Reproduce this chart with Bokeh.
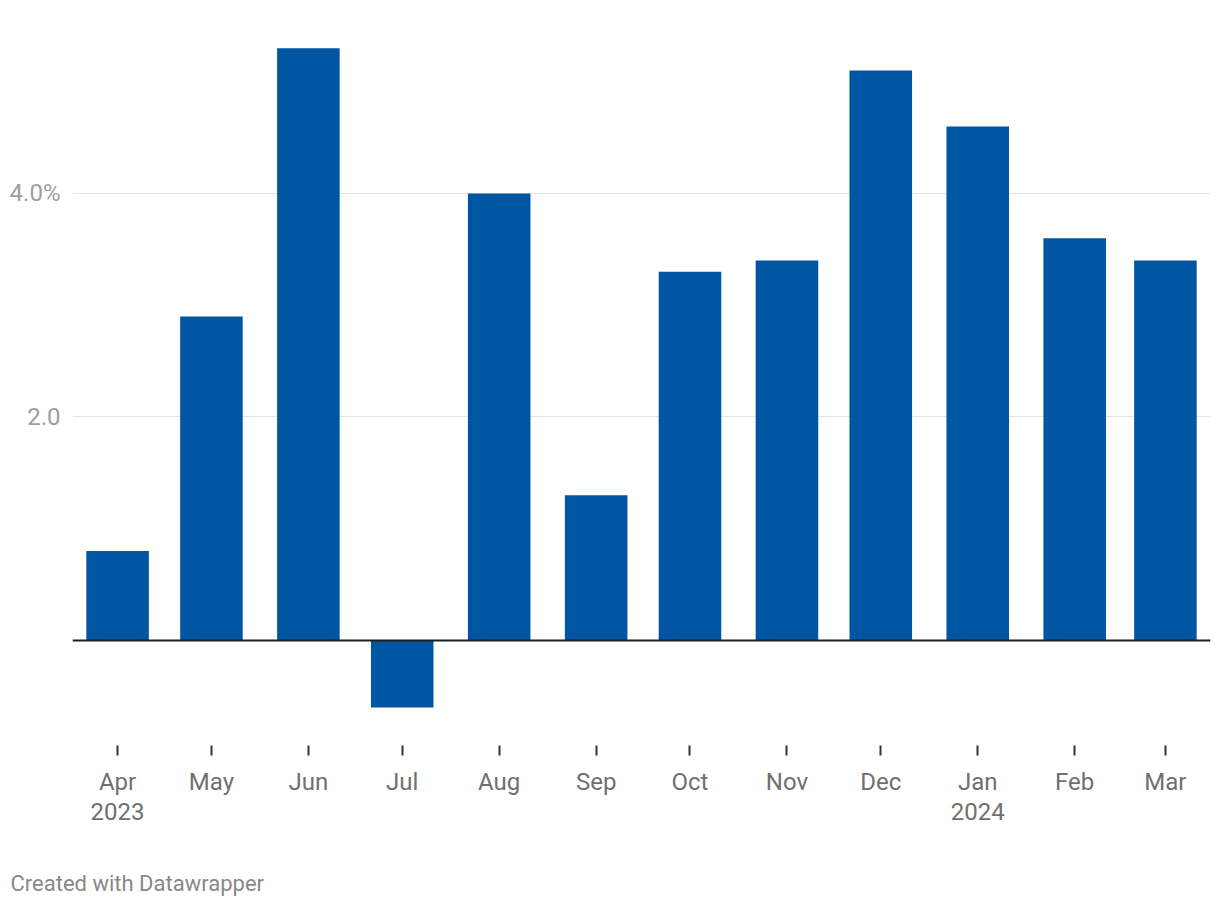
import datetime as dt
from bokeh.plotting import figure
from bokeh.models import FixedTicker, Span, Title, Range1d, ColumnDataSource
from bokeh.embed import file_html
from bokeh.resources import INLINE

# ---- data ----
months = ["2023-04-01", "2023-05-01", "2023-06-01", "2023-07-01", "2023-08-01", "2023-09-01",
          "2023-10-01", "2023-11-01", "2023-12-01", "2024-01-01", "2024-02-01", "2024-03-01"]
month_labels = ["Apr\n2023", "May", "Jun", "Jul", "Aug", "Sep",
                "Oct", "Nov", "Dec", "Jan\n2024", "Feb", "Mar"]
values = [0.8, 2.9, 5.3, -0.6, 4.0, 1.3, 3.3, 3.4, 5.1, 4.6, 3.6, 3.4]
y_ticks = [2, 4]
y_tick_labels = ["2.0", "4.0%"]
footer = "Created with Datawrapper"

dates = [dt.datetime.strptime(m, "%Y-%m-%d") for m in months]
epoch = dt.datetime(1970, 1, 1)
tick_ms = [int((d - epoch).total_seconds() * 1000) for d in dates]

src = ColumnDataSource(dict(x=dates, top=values))

FONT = "Roboto"
W, H = 1220, 908
p = figure(width=W, height=H, x_axis_type="datetime",
           output_backend="svg", toolbar_location=None,
           x_range=Range1d(dt.datetime(2023, 3, 17, 14), dt.datetime(2024, 3, 15, 10)),
           y_range=Range1d(-0.9396, 5.369),
           min_border_left=72, min_border_right=10, min_border_top=40, min_border_bottom=H - 745)
p.outline_line_color = None
p.background_fill_color = "white"
p.border_fill_color = "white"

p.vbar(x="x", top="top", bottom=0, width=20 * 86400000, source=src,
       fill_color="#0156a4", line_color=None)

zero = Span(location=0, dimension="width", line_color="#1e1e1e", line_width=2, level="overlay")
p.add_layout(zero)

# x axis
xa = p.xaxis[0]
xa.ticker = FixedTicker(ticks=tick_ms)
xa.major_label_overrides = {t: lab for t, lab in zip(tick_ms, month_labels)}
xa.axis_line_color = None
xa.major_tick_in = 0
xa.major_tick_out = 10
xa.major_tick_line_width = 2
xa.major_tick_line_color = "#333333"
xa.minor_tick_line_color = None
xa.major_label_standoff = 12
xa.major_label_text_font = FONT
xa.major_label_text_font_size = "24px"
xa.major_label_text_color = "#707070"
xa.major_label_text_line_height = 1.1

# y axis
ya = p.yaxis[0]
ya.ticker = FixedTicker(ticks=y_ticks)
ya.major_label_overrides = {t: lab for t, lab in zip(y_ticks, y_tick_labels)}
ya.axis_line_color = None
ya.major_tick_line_color = None
ya.major_tick_out = 0
ya.major_tick_in = 0
ya.minor_tick_line_color = None
ya.major_label_standoff = 12
ya.major_label_text_font = FONT
ya.major_label_text_font_size = "24px"
ya.major_label_text_color = "#9e9e9e"

p.xgrid.grid_line_color = None
p.ygrid.grid_line_color = "#e2e2e2"
p.ygrid.grid_line_width = 1

spacer = Title(text=" ", align="left", standoff=24, text_font=FONT,
               text_font_size="10px", text_color="white")
p.add_layout(spacer, "below")

t = Title(text=footer, align="left", offset=-62, standoff=4,
          text_font=FONT, text_font_size="22px", text_color="#888888",
          text_font_style="normal")
p.add_layout(t, "below")

open("out.html", "w").write(file_html(p, INLINE))
